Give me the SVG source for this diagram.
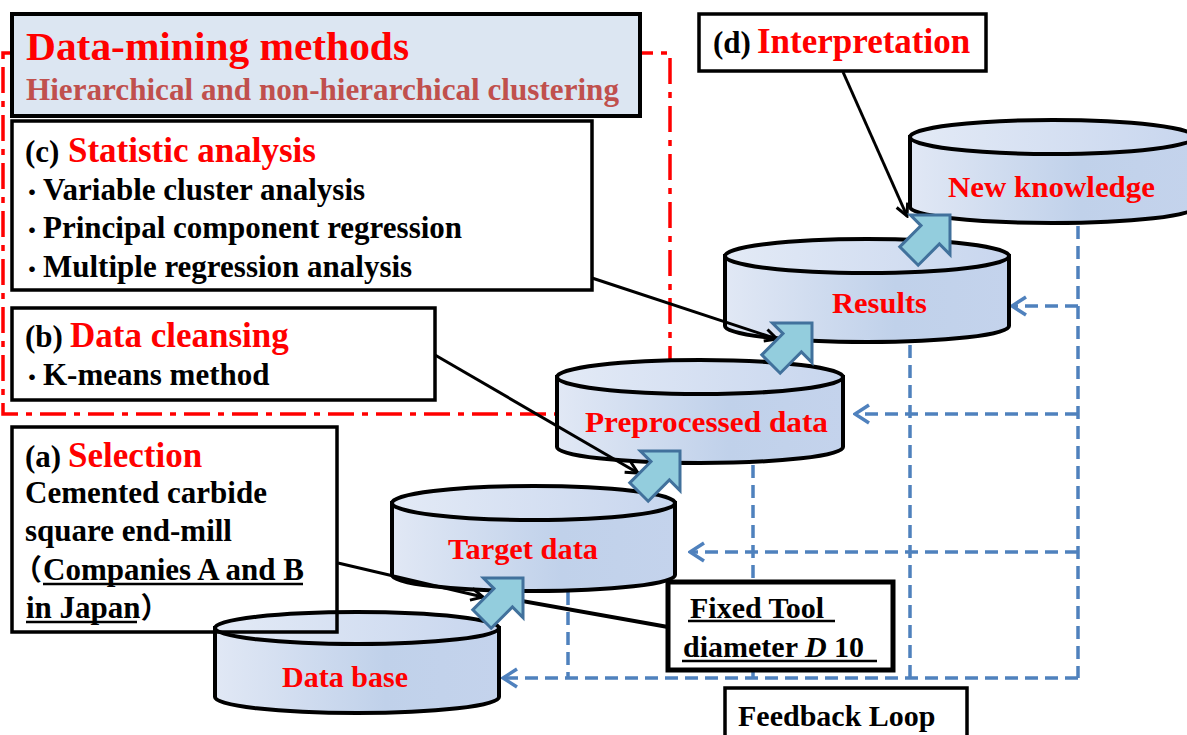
<svg xmlns="http://www.w3.org/2000/svg" width="1187" height="735" viewBox="0 0 1187 735">
  <style>
    text { font-family: 'Liberation Serif', 'Noto Sans CJK JP', serif; font-weight: bold; }
    .k { fill: #000; }
    .r { fill: #ff0000; }
    .box { fill: #fff; stroke: #000; stroke-width: 3.5; }
    .cyl-body { fill: url(#gBody); stroke: #000; stroke-width: 4; }
    .cyl-top { fill: url(#gTop); stroke: #000; stroke-width: 4; }
    .cyl-label { fill: #ff0000; font-size: 30px; }
    .ul { stroke: #000; stroke-width: 2.5; }
    .link { fill: none; stroke: #000; stroke-width: 3; }
    .fb { fill: none; stroke: #4f81bd; stroke-width: 3.5; stroke-dasharray: 13 7; }
    .blk { fill: #93cddd; stroke: #41719c; stroke-width: 3; stroke-linejoin: miter; }
  </style>
  <defs>
    <linearGradient id="gBody" x1="0" y1="0" x2="1" y2="0">
      <stop offset="0" stop-color="#e1e8f5"/>
      <stop offset="0.6" stop-color="#c0d1ea"/>
      <stop offset="1" stop-color="#c4d3ec"/>
    </linearGradient>
    <linearGradient id="gTop" x1="0" y1="0" x2="1" y2="0">
      <stop offset="0" stop-color="#e3eaf6"/>
      <stop offset="1" stop-color="#c8d6ee"/>
    </linearGradient>
    <marker id="open" viewBox="0 0 16 16" refX="14" refY="8" markerWidth="16" markerHeight="16" markerUnits="userSpaceOnUse" orient="auto">
      <path d="M2,2 L14,8 L2,14" fill="none" stroke="#000" stroke-width="3"/>
    </marker>
    <marker id="fbHead" viewBox="0 0 18 22" refX="16" refY="11" markerWidth="18" markerHeight="22" markerUnits="userSpaceOnUse" orient="auto">
      <path d="M2,2 L16,11 L2,20" fill="none" stroke="#4f81bd" stroke-width="3.5"/>
    </marker>
    <!-- fat block arrow, tip at origin, pointing along +x -->
    <path id="block" d="M0,0 L-28,28 L-28,13 L-58,13 L-58,-13 L-28,-13 L-28,-28 Z"/>
  </defs>

  <!-- dash-dot frame around the data-mining steps -->
  <path d="M3,53 H670 V414 H3 Z" fill="none" stroke="#ff0000" stroke-width="3.5" stroke-dasharray="26 8 6 8"/>

  <!-- feedback loop lines -->
  <g id="feedback">
    <path class="fb" d="M1078,226 V678"/>
    <path class="fb" d="M910,345 V678"/>
    <path class="fb" d="M753,465 V678"/>
    <path class="fb" d="M568,592 V678"/>
    <path class="fb" d="M1078,306 H1012" marker-end="url(#fbHead)"/>
    <path class="fb" d="M1078,414 H855" marker-end="url(#fbHead)"/>
    <path class="fb" d="M1078,552 H690" marker-end="url(#fbHead)"/>
    <path class="fb" d="M1078,678 H503" marker-end="url(#fbHead)"/>
  </g>

  <!-- data stores -->
  <g id="database">
    <path class="cyl-body" d="M215,628 V697 A142,16 0 0 0 499,697 V628 Z"/>
    <ellipse class="cyl-top" cx="357" cy="628" rx="142" ry="16"/>
    <text class="cyl-label" x="282" y="687" textLength="126" lengthAdjust="spacingAndGlyphs">Data base</text>
  </g>
  <g id="target">
    <path class="cyl-body" d="M392,503 V575 A141.5,16 0 0 0 675,575 V503 Z"/>
    <ellipse class="cyl-top" cx="533.5" cy="503" rx="141.5" ry="17"/>
    <text class="cyl-label" x="448" y="559" textLength="150" lengthAdjust="spacingAndGlyphs">Target data</text>
  </g>
  <g id="preprocessed">
    <path class="cyl-body" d="M557,377 V447 A143,16 0 0 0 843,447 V377 Z"/>
    <ellipse class="cyl-top" cx="700" cy="377" rx="143" ry="17"/>
    <text class="cyl-label" x="585" y="432" textLength="243" lengthAdjust="spacingAndGlyphs">Preprocessed data</text>
  </g>
  <g id="results">
    <path class="cyl-body" d="M725,256 V326 A142,16 0 0 0 1009,326 V256 Z"/>
    <ellipse class="cyl-top" cx="867" cy="256" rx="142" ry="17"/>
    <text class="cyl-label" x="832" y="313" textLength="95" lengthAdjust="spacingAndGlyphs">Results</text>
  </g>
  <g id="knowledge">
    <path class="cyl-body" d="M910,137 V207 A142.5,16 0 0 0 1195,207 V137 Z"/>
    <ellipse class="cyl-top" cx="1052.5" cy="137" rx="142.5" ry="17"/>
    <text class="cyl-label" x="948" y="197" textLength="207" lengthAdjust="spacingAndGlyphs">New knowledge</text>
  </g>

  <!-- method title -->
  <g id="methods">
    <rect x="12" y="14" width="628" height="102" fill="#dce6f2" stroke="#000" stroke-width="4"/>
    <text x="26" y="60" font-size="41" class="r" textLength="383" lengthAdjust="spacingAndGlyphs">Data-mining methods</text>
    <text x="26" y="100" font-size="31" fill="#c0504d" textLength="593" lengthAdjust="spacingAndGlyphs">Hierarchical and non-hierarchical clustering</text>
  </g>

  <!-- (c) statistic analysis -->
  <g id="stat">
    <rect class="box" x="12" y="121" width="580" height="169"/>
    <text y="162"><tspan x="25" font-size="31" class="k">(c)</tspan><tspan x="68" font-size="35" class="r">Statistic analysis</tspan></text>
    <text y="200" font-size="31" class="k"><tspan x="21" font-size="22">・</tspan><tspan x="43">Variable cluster analysis</tspan></text>
    <text y="238" font-size="31" class="k"><tspan x="21" font-size="22">・</tspan><tspan x="43">Principal component regression</tspan></text>
    <text y="277" font-size="31" class="k"><tspan x="21" font-size="22">・</tspan><tspan x="43">Multiple regression analysis</tspan></text>
  </g>

  <!-- (b) data cleansing -->
  <g id="cleansing">
    <rect class="box" x="12" y="308" width="423" height="92"/>
    <text y="347"><tspan x="25" font-size="31" class="k">(b)</tspan><tspan x="70" font-size="35" class="r">Data cleansing</tspan></text>
    <text y="385" font-size="31" class="k"><tspan x="21" font-size="22">・</tspan><tspan x="43">K-means method</tspan></text>
  </g>

  <!-- (a) selection -->
  <g id="selection">
    <rect x="12" y="427" width="325" height="205" fill="none" stroke="#000" stroke-width="3.5"/>
    <text y="467"><tspan x="25" font-size="31" class="k">(a)</tspan><tspan x="68" font-size="35" class="r">Selection</tspan></text>
    <text x="25" y="503" font-size="31" class="k">Cemented carbide</text>
    <text x="25" y="541" font-size="31" class="k">square end-mill</text>
    <text y="580" font-size="31" class="k"><tspan x="13" font-size="29">（</tspan><tspan x="43">Companies A and B</tspan></text>
    <text x="26" y="618" font-size="31" class="k">in Japan<tspan font-size="29">）</tspan></text>
    <line class="ul" x1="43" y1="584" x2="303" y2="584"/>
    <line class="ul" x1="26" y1="622" x2="137" y2="622"/>
  </g>

  <!-- (d) interpretation -->
  <g id="interpretation">
    <rect class="box" x="699" y="14" width="287" height="57"/>
    <text y="53"><tspan x="713" font-size="31" class="k">(d)</tspan><tspan x="757" font-size="35" class="r">Interpretation</tspan></text>
  </g>

  <!-- fixed tool diameter note -->
  <g id="fixed-tool">
    <rect x="668" y="582" width="225" height="88" fill="#fff" stroke="#000" stroke-width="5"/>
    <text x="690" y="618" font-size="30" class="k">Fixed Tool</text>
    <text x="683" y="657" font-size="30" class="k">diameter <tspan font-style="italic">D</tspan> 10</text>
    <line class="ul" x1="688" y1="621" x2="835" y2="621"/>
    <line class="ul" x1="682" y1="661" x2="877" y2="661"/>
  </g>

  <!-- feedback label -->
  <g id="feedback-label">
    <rect class="box" x="725" y="688" width="242" height="60"/>
    <text x="738" y="726" font-size="30" class="k">Feedback Loop</text>
  </g>

  <!-- callout connectors and process arrows -->
  <g id="connectors">
    <line x1="668" y1="627" x2="505" y2="598" stroke="#000" stroke-width="4"/>
    <path class="link" d="M338,563 L483,597" marker-end="url(#open)"/>
    <path class="link" d="M435,355 L638,473" marker-end="url(#open)"/>
    <path class="link" d="M592,278 L777,339" marker-end="url(#open)"/>
    <path class="link" d="M843,72 L907,216" marker-end="url(#open)"/>
    <use href="#block" class="blk" transform="translate(523,578) rotate(-45)"/>
    <use href="#block" class="blk" transform="translate(680,451) rotate(-45)"/>
    <use href="#block" class="blk" transform="translate(812,323) rotate(-45)"/>
    <use href="#block" class="blk" transform="translate(950,215) rotate(-45)"/>
  </g>
</svg>
